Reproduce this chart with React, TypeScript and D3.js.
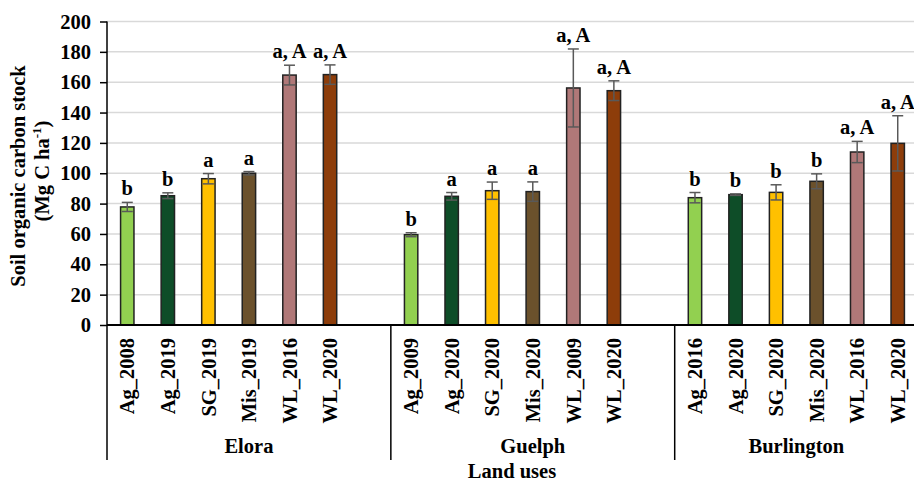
import * as d3 from "d3";
import React, { useRef, useEffect } from "react";

const sites = ["Elora", "Guelph", "Burlington"];
const landUses = [
  ["Ag_2008", "Ag_2019", "SG_2019", "Mis_2019", "WL_2016", "WL_2020"],
  ["Ag_2009", "Ag_2020", "SG_2020", "Mis_2020", "WL_2009", "WL_2020"],
  ["Ag_2016", "Ag_2020", "SG_2020", "Mis_2020", "WL_2016", "WL_2020"],
];
const stocks = [
  [77.8, 85.2, 96.4, 100, 164.7, 165],
  [59.5, 84.8, 88.5, 87.9, 156.2, 154.4],
  [83.9, 85.9, 87.4, 94.7, 114, 119.7],
];
const stockErr = [
  [3, 1.9, 3.4, 1.1, 6.5, 6.4],
  [1.3, 2.5, 5.7, 6.4, 25.7, 6.5],
  [3.4, 0.5, 5, 4.9, 7, 18.2],
];
const letters = [
  ["b", "b", "a", "a", "a, A", "a, A"],
  ["b", "a", "a", "a", "a, A", "a, A"],
  ["b", "b", "b", "b", "a, A", "a, A"],
];
const colors = ["#92d050", "#0e4d28", "#ffc000", "#6b512c", "#b07878", "#8d3d0a"];
const yTicks = [0, 20, 40, 60, 80, 100, 120, 140, 160, 180, 200];

const W = 914;
const H = 483;
const left = 107;
const right = 918;
const top = 21.5;
const bottom = 325;
const font = "'Liberation Serif', 'Times New Roman', serif";

// one empty slot between sites
const slots = d3.range(sites.length * 7 - 1).map(String);

const App = () => {
  const axisRef = useRef<SVGGElement>(null);

  const x = d3.scaleBand().domain(slots).range([left, right]).paddingInner(0).paddingOuter(0);
  const y = d3.scaleLinear().domain([0, 200]).range([bottom, top]);
  const bw = x.bandwidth() * 0.33;

  useEffect(() => {
    const g = d3.select(axisRef.current);
    g.selectAll("*").remove();
    g.call(d3.axisLeft(y).tickValues(yTicks).tickSize(7).tickPadding(9) as any);
    g.select(".domain").remove();
    g.selectAll(".tick line").attr("stroke", "#000").attr("stroke-width", 1.5);
    g.selectAll(".tick text")
      .attr("fill", "#000")
      .attr("font-family", font)
      .attr("font-weight", "bold")
      .attr("font-size", 20.5);
  }, []);

  const cx = (g: number, j: number) => (x(String(g * 7 + j)) as number) + x.bandwidth() / 2;
  // boundary between the spacer slot and the first slot of site g
  const groupStart = (g: number) => (g === 0 ? left : (x(String(g * 7)) as number));
  const groupEnd = (g: number) => (g === sites.length - 1 ? right : groupStart(g + 1));

  return (
    <svg width={W} height={H} style={{ position: "absolute", left: 0, top: 0, background: "#fff" }}
      fontFamily={font} fontWeight="bold">
      {/* gridlines */}
      {yTicks.filter((t) => t > 0).map((t) => (
        <line key={t} x1={left} x2={W} y1={y(t)} y2={y(t)} stroke="#d9d9d9" strokeWidth={1.5} />
      ))}

      {/* bars */}
      {stocks.map((row, g) =>
        row.map((v, j) => {
          const c = cx(g, j);
          const hi = y(v + stockErr[g][j]);
          const lo = y(v - stockErr[g][j]);
          return (
            <g key={`${g}-${j}`}>
              <rect x={c - bw / 2} y={y(v)} width={bw} height={y(0) - y(v)}
                fill={colors[j]} stroke="#222" strokeWidth={1.5} />
              <line x1={c} x2={c} y1={hi} y2={lo} stroke="#595959" strokeWidth={1.5} />
              <line x1={c - 5.5} x2={c + 5.5} y1={hi} y2={hi} stroke="#595959" strokeWidth={1.5} />
              <line x1={c - 5.5} x2={c + 5.5} y1={lo} y2={lo} stroke="#595959" strokeWidth={1.5} />
              <text x={c} y={hi - 7} textAnchor="middle" fontSize={20.5}>{letters[g][j]}</text>
            </g>
          );
        })
      )}

      {/* axes */}
      <g ref={axisRef} transform={`translate(${left},0)`} />
      <line x1={left} x2={W} y1={bottom} y2={bottom} stroke="#000" strokeWidth={2} />
      <line x1={left} x2={left} y1={top} y2={460} stroke="#000" strokeWidth={1.5} />
      {sites.slice(1).map((s, i) => (
        <line key={s} x1={groupStart(i + 1)} x2={groupStart(i + 1)} y1={bottom} y2={460}
          stroke="#000" strokeWidth={1.5} />
      ))}

      {/* category labels */}
      {landUses.map((row, g) =>
        row.map((lab, j) => (
          <text key={`${g}-${j}`} transform={`translate(${cx(g, j)},338) rotate(-90)`}
            textAnchor="end" dy="0.35em" fontSize={20.5}>{lab}</text>
        ))
      )}

      {/* site labels */}
      {sites.map((s, g) => (
        <text key={s} x={(groupStart(g) + groupEnd(g)) / 2} y={453} textAnchor="middle" fontSize={20.5}>{s}</text>
      ))}

      {/* axis titles */}
      <text x={512} y={478} textAnchor="middle" fontSize={20.5}>Land uses</text>
      <text transform={`translate(25,176) rotate(-90)`} textAnchor="middle" fontSize={20.5}>
        Soil organic carbon stock
      </text>
      <text transform={`translate(49,171) rotate(-90)`} textAnchor="middle" fontSize={20.5}>
        (Mg C ha<tspan fontSize={13} dy={-8}>-1</tspan><tspan dy={8}>)</tspan>
      </text>
    </svg>
  );
};

export default App;
